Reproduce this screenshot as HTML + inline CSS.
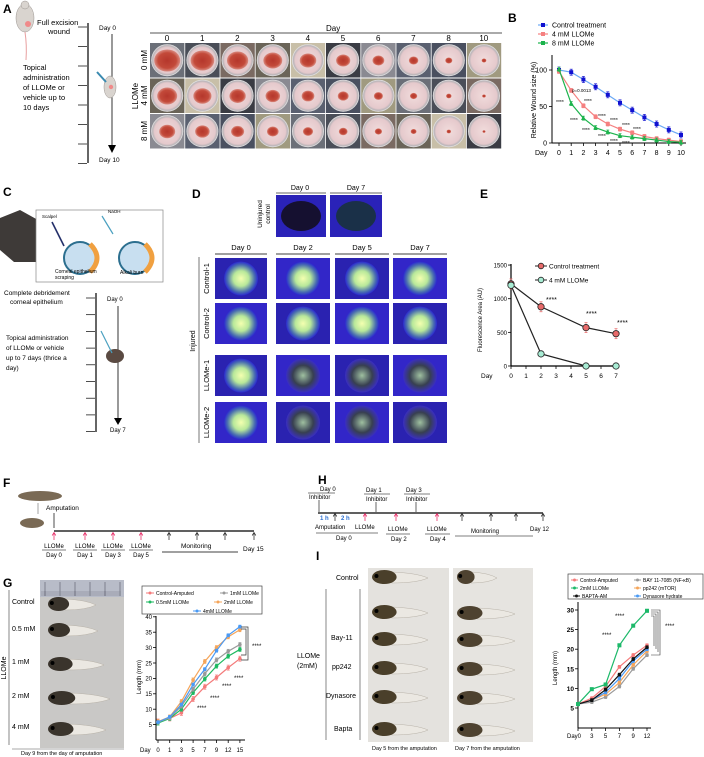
<!DOCTYPE html>
<html><head><meta charset="utf-8"><style>
html,body{margin:0;padding:0;background:#fff;}
svg{display:block;font-family:"Liberation Sans",sans-serif;}
</style></head><body>
<svg id="fig" width="704" height="757" viewBox="0 0 704 757" xmlns="http://www.w3.org/2000/svg">
<defs>
<radialGradient id="dish" cx="50%" cy="50%" r="50%"><stop offset="0" stop-color="#f1dcdc"/><stop offset="0.8" stop-color="#e5c9cc"/><stop offset="0.92" stop-color="#b9b4b8"/><stop offset="1" stop-color="#eeeeee"/></radialGradient>
<radialGradient id="wound" cx="50%" cy="50%" r="50%"><stop offset="0" stop-color="#b5372c"/><stop offset="0.7" stop-color="#c34a3a"/><stop offset="1" stop-color="#d98a80"/></radialGradient>
<radialGradient id="eye" cx="50%" cy="50%" r="50%"><stop offset="0" stop-color="#f4ffb0"/><stop offset="0.45" stop-color="#b8e89a"/><stop offset="0.8" stop-color="#4a6fb0"/><stop offset="1" stop-color="#2b2ad0"/></radialGradient>
<radialGradient id="eyedark" cx="50%" cy="50%" r="50%"><stop offset="0" stop-color="#9fc0a0"/><stop offset="0.6" stop-color="#384050"/><stop offset="1" stop-color="#3a2fc0"/></radialGradient>
</defs>

<!-- Panel A -->
<g font-size="8">
<text x="3" y="13" font-size="12" font-weight="bold">A</text>
<g>
<ellipse cx="25" cy="18" rx="9" ry="14" fill="#d9d4cf" stroke="#9a9490" stroke-width="0.5"/>
<circle cx="25" cy="5" r="4" fill="#d9d4cf" stroke="#9a9490" stroke-width="0.5"/>
<circle cx="28" cy="24" r="3" fill="#f08a8a"/>
<path d="M25 32 Q27 45 26 60" stroke="#e8a0a0" fill="none" stroke-width="1"/>
</g>
<text x="37" y="25" font-size="7.5">Full excision</text>
<text x="48" y="34" font-size="7.5">wound</text>
<text x="23" y="70" font-size="7.5">Topical</text>
<text x="23" y="80" font-size="7.5">administration</text>
<text x="23" y="90" font-size="7.5">of LLOMe or</text>
<text x="23" y="100" font-size="7.5">vehicle up to</text>
<text x="23" y="110" font-size="7.5">10 days</text>
<line x1="88" y1="23" x2="88" y2="163" stroke="#000" stroke-width="1.2"/>
<g id="a-ticks"></g>
<text x="99" y="30" font-size="6.5">Day 0</text>
<line x1="112" y1="34" x2="112" y2="147" stroke="#000" stroke-width="0.8"/>
<path d="M108 145 L116 145 L112 153 Z" fill="#000"/>
<text x="99" y="162" font-size="6.5">Day 10</text>
<g>
<ellipse cx="110" cy="87" rx="6" ry="11" fill="#d9d4cf" stroke="#9a9490" stroke-width="0.5"/>
<circle cx="111" cy="87" r="2.2" fill="#f08a8a"/>
<line x1="97" y1="72" x2="106" y2="82" stroke="#3a8ab0" stroke-width="2"/>
</g>
<text x="326" y="31" font-size="8">Day</text>
<line x1="150" y1="33" x2="502" y2="33" stroke="#555" stroke-width="1"/>
<text transform="translate(138,96) rotate(-90)" text-anchor="middle" font-size="8">LLOMe</text>
<g id="a-grid"></g>
</g>

<!-- Panel B chart -->
<g>
<text x="508" y="22" font-size="12" font-weight="bold">B</text>
<g id="b-chart"></g>
</g>

<!-- Panel C -->
<g font-size="6.5">
<text x="3" y="196" font-size="12" font-weight="bold">C</text>
<path d="M0 218 L20 210 L38 220 L36 262 L14 262 L0 250 Z" fill="#3e3a38"/>
<rect x="36" y="210" width="127" height="72" fill="#fff" stroke="#888" stroke-width="0.7"/>
<text x="42" y="218" font-size="4.5">Scalpel</text>
<text x="108" y="213" font-size="4.5">NaOH</text>
<circle cx="80" cy="258" r="16" fill="#c8dff0" stroke="#2c6f8f" stroke-width="2"/>
<path d="M90 244 Q104 258 90 272" stroke="#f0a040" stroke-width="5" fill="none"/>
<circle cx="135" cy="258" r="16" fill="#c8dff0" stroke="#2c6f8f" stroke-width="2"/>
<path d="M145 244 Q159 258 145 272" stroke="#f0a040" stroke-width="5" fill="none"/>
<line x1="52" y1="222" x2="64" y2="246" stroke="#24306a" stroke-width="1.6"/>
<line x1="102" y1="216" x2="113" y2="234" stroke="#4aa0c0" stroke-width="1.2"/>
<text x="55" y="273" font-size="5">Corneal epithelium</text>
<text x="55" y="279" font-size="5">scraping</text>
<text x="120" y="274" font-size="5">Alkali burn</text>
<text x="4" y="295" font-size="6.5">Complete debridement</text>
<text x="10" y="304" font-size="6.5">corneal epithelium</text>
<text x="6" y="340" font-size="6.5">Topical administration</text>
<text x="6" y="350" font-size="6.5">of LLOMe or vehicle</text>
<text x="6" y="360" font-size="6.5">up to 7 days (thrice a</text>
<text x="6" y="370" font-size="6.5">day)</text>
<line x1="96" y1="293" x2="96" y2="432" stroke="#000" stroke-width="1.2"/>
<g id="c-ticks"></g>
<text x="107" y="301" font-size="6">Day 0</text>
<line x1="118" y1="306" x2="118" y2="420" stroke="#000" stroke-width="0.8"/>
<path d="M114 418 L122 418 L118 425 Z" fill="#000"/>
<text x="110" y="432" font-size="6">Day 7</text>
<ellipse cx="115" cy="356" rx="9" ry="7" fill="#5a4a42"/>
<line x1="101" y1="331" x2="112" y2="353" stroke="#4aa0c0" stroke-width="1.2"/>
</g>

<!-- Panel D -->
<g font-size="7">
<text x="192" y="198" font-size="12" font-weight="bold">D</text>
<text x="300" y="190" text-anchor="middle">Day 0</text>
<text x="356" y="190" text-anchor="middle">Day 7</text>
<line x1="276" y1="193" x2="326" y2="193" stroke="#666" stroke-width="1"/>
<line x1="330" y1="193" x2="382" y2="193" stroke="#666" stroke-width="1"/>
<text transform="translate(262,214) rotate(-90)" text-anchor="middle" font-size="6.5">Uninjured</text>
<text transform="translate(270,214) rotate(-90)" text-anchor="middle" font-size="6.5">control</text>
<g id="d-grid"></g>
<line x1="199" y1="257" x2="199" y2="443" stroke="#555" stroke-width="0.8"/>
<text transform="translate(195,341) rotate(-90)" text-anchor="middle" font-size="7">Injured</text>
</g>

<!-- Panel E -->
<g>
<text x="480" y="198" font-size="12" font-weight="bold">E</text>
<g id="e-chart"></g>
</g>

<!-- Panel F -->
<g font-size="6">
<text x="3" y="487" font-size="12" font-weight="bold">F</text>
<ellipse cx="40" cy="496" rx="22" ry="5" fill="#7a6a55"/>
<ellipse cx="32" cy="523" rx="12" ry="5" fill="#7a6a55"/>
<line x1="38" y1="503" x2="38" y2="514" stroke="#666" stroke-width="0.6"/>
<text x="46" y="510" font-size="6.5">Amputation</text>
<line x1="54" y1="513" x2="54" y2="528" stroke="#000" stroke-width="0.7"/>
<line x1="54" y1="531" x2="254" y2="531" stroke="#000" stroke-width="1.2"/>
<g id="f-marks"></g>
<text x="181" y="548" font-size="6.5">Monitoring</text>
<line x1="162" y1="552" x2="238" y2="552" stroke="#000" stroke-width="0.7"/>
<text x="243" y="551" font-size="6.5">Day 15</text>
</g>

<!-- Panel H -->
<g font-size="6">
<text x="318" y="484" font-size="12" font-weight="bold">H</text>
<line x1="318" y1="513" x2="543" y2="513" stroke="#000" stroke-width="1.2"/>
<text x="320" y="491">Day 0</text><line x1="308" y1="493" x2="335" y2="493" stroke="#000" stroke-width="0.6"/><text x="309" y="499">Inhibitor</text>
<line x1="319" y1="500" x2="319" y2="512" stroke="#000" stroke-width="0.6"/>
<text x="366" y="492">Day 1</text><line x1="364" y1="494" x2="390" y2="494" stroke="#000" stroke-width="0.6"/><text x="366" y="501">Inhibitor</text>
<line x1="376" y1="502" x2="376" y2="512" stroke="#000" stroke-width="0.6"/>
<text x="406" y="492">Day 3</text><line x1="404" y1="494" x2="430" y2="494" stroke="#000" stroke-width="0.6"/><text x="406" y="501">Inhibitor</text>
<line x1="416" y1="502" x2="416" y2="512" stroke="#000" stroke-width="0.6"/>
<text x="320" y="520" fill="#2b6fd0" font-weight="bold">1 h</text>
<text x="341" y="520" fill="#2b6fd0" font-weight="bold">2 h</text>
<g id="h-marks"></g>
<text x="315" y="529">Amputation</text><text x="355" y="529">LLOMe</text>
<line x1="316" y1="533" x2="378" y2="533" stroke="#000" stroke-width="0.6"/>
<text x="336" y="540">Day 0</text>
<text x="388" y="531">LLOMe</text><line x1="386" y1="534" x2="410" y2="534" stroke="#000" stroke-width="0.6"/><text x="391" y="541">Day 2</text>
<text x="427" y="531">LLOMe</text><line x1="425" y1="534" x2="450" y2="534" stroke="#000" stroke-width="0.6"/><text x="430" y="541">Day 4</text>
<text x="471" y="533">Monitoring</text>
<line x1="455" y1="536" x2="533" y2="536" stroke="#000" stroke-width="0.6"/>
<text x="530" y="531">Day 12</text>
</g>

<!-- Panel G photos -->
<g>
<text x="3" y="587" font-size="12" font-weight="bold">G</text>
<rect x="40" y="580" width="84" height="168" fill="#c9c8c6"/>
<rect x="40" y="580" width="84" height="17" fill="#b8bcc8"/>
<g id="g-ruler"></g>
<g id="g-tadpoles"></g>
<line x1="9" y1="590" x2="9" y2="745" stroke="#555" stroke-width="0.7"/>
<text transform="translate(6,668) rotate(-90)" text-anchor="middle" font-size="7">LLOMe</text>
<text x="12" y="604" font-size="7">Control</text>
<text x="12" y="631" font-size="7">0.5 mM</text>
<text x="12" y="664" font-size="7">1 mM</text>
<text x="12" y="698" font-size="7">2 mM</text>
<text x="12" y="729" font-size="7">4 mM</text>
<line x1="12" y1="749" x2="124" y2="749" stroke="#555" stroke-width="0.6"/>
<text x="21" y="755" font-size="5.5">Day 9 from the day of amputation</text>
<g id="g-chart"></g>
</g>

<!-- Panel I -->
<g>
<text x="316" y="560" font-size="12" font-weight="bold">I</text>
<rect x="368" y="568" width="81" height="174" fill="#e4e2de"/>
<rect x="453" y="568" width="80" height="174" fill="#e6e4e0"/>
<g id="i-tadpoles"></g>
<text x="336" y="580" font-size="7">Control</text>
<text x="331" y="640" font-size="7">Bay-11</text>
<text x="332" y="669" font-size="7">pp242</text>
<text x="326" y="698" font-size="7">Dynasore</text>
<text x="334" y="731" font-size="7">Bapta</text>
<text x="297" y="658" font-size="7">LLOMe</text>
<text x="297" y="668" font-size="7">(2mM)</text>
<line x1="326" y1="589" x2="326" y2="740" stroke="#555" stroke-width="0.7"/>
<line x1="360" y1="589" x2="360" y2="740" stroke="#555" stroke-width="0.7"/>
<text x="372" y="750" font-size="5.5">Day 5 from the amputation</text>
<text x="455" y="750" font-size="5.5">Day 7 from the amputation</text>
<g id="i-chart"></g>
</g>
</svg>

<script>
// ---------- Chart data ----------
// Panel B
const bDays = [0,1,2,3,4,5,6,7,8,9,10];
const bControl = [100,97,87,77,66,55,45,35,26,18,11];
const bLLOMe4 = [98,72,51,36,26,19,14,9,6,4,2];
const bLLOMe8 = [101,54,34,21,15,10,8,6,4,2,1];
const bYTicks = [0,50,100];
// Panel E
const eDays = [0,2,5,7];
const eControl = [1220,880,570,480];
const eLLOMe = [1200,180,0,0];
const eYTicks = [0,500,1000,1500];
const eXTicks = [0,1,2,3,4,5,6,7];
// Panel G
const gCats = ["0","1","3","5","7","9","12","15"];
const gControl = [6,7,8.8,13.3,17.3,20.3,23.5,26.4];
const gL05 = [5.5,7,10,15.4,19.8,24,27.2,29.4];
const gL1 = [5.8,7.2,11,16.5,21.5,26,28.8,31];
const gL2 = [6,7.5,12.5,19.5,25.5,30,33.5,35.8];
const gL4 = [5.8,7.5,11.5,18,23,29,34,36.8];
const gYTicks = [5,10,15,20,25,30,35,40];
// Panel I
const iCats = ["Day0","3","5","7","9","12"];
const iControl = [6,7.5,10.5,15.5,18.5,21];
const iLLOMe = [6,9.8,11,21,26,29.8];
const iBapta = [6,7,9.7,13.5,17.5,20.5];
const iBay = [6,6.5,7.8,10.5,15,18.5];
const iPp242 = [6,7,8.5,11.5,16,19.5];
const iDyn = [6,7,9,12.5,17,20];
const iYTicks = [5,10,15,20,25,30];

const NS = "http://www.w3.org/2000/svg";
function mk(parent, tag, attrs, text){
  const el = document.createElementNS(NS, tag);
  for (const k in attrs) el.setAttribute(k, attrs[k]);
  if (text !== undefined) el.textContent = text;
  parent.appendChild(el);
  return el;
}
const $ = id => document.getElementById(id);

// ---------- Panel A ticks & grid ----------
for (let i=0;i<8;i++){
  const y = 27 + i*19.5;
  const t = mk($('a-ticks'),'line',{x1:78,y1:y,x2:87,y2:y,stroke:'#000','stroke-width':0.7});
  
  
}
const aDays = ["0","1","2","3","4","5","6","7","8","10"];
const aRows = ["0 mM","4 mM","8 mM"];
const aBg = ["#6b6f78","#4a4e58","#7a6a62","#6a6458","#c8bfa8","#3a3c44","#8a8a92","#5a6070","#4a5060","#a09a80"];
for (let c=0;c<10;c++){
  const lbl = mk($('a-grid'),'text',{x:150+c*35.2+17,y:41,'text-anchor':'middle','font-size':8},aDays[c]);
  
  
  for (let r=0;r<3;r++){
    const x = 150+c*35.2, y = 43+r*35.5;
    const cell = mk($('a-grid'),'rect',{x:x,y:y,width:34.4,height:34.5,fill:aBg[(c+r*3)%10]});
    
    
    mk($('a-grid'),'circle',{cx:x+17.2,cy:y+17.2,r:16,fill:'url(#dish)'});
    const base = r===0 ? 13 : (r===1 ? 10 : 8);
    const wr = Math.max(1.5, base*(1 - c/11));
    mk($('a-grid'),'ellipse',{cx:x+17.2,cy:y+17.5,rx:wr,ry:wr*0.85,fill:'url(#wound)'});
  }
}
aRows.forEach((t,r)=>{
  const el = mk($('a-grid'),'text',{transform:`translate(147,${60+r*35.5}) rotate(-90)`,'text-anchor':'middle','font-size':8},t);
  
  
});

// ---------- Panel C ticks ----------
for (let i=0;i<9;i++){
  const y = 298 + i*16.7;
  const t = mk($('c-ticks'),'line',{x1:86,y1:y,x2:95,y2:y,stroke:'#000','stroke-width':0.7});
  
  
}

// ---------- Panel D grid ----------
[[276,326],[330,382]].forEach(([x0,x1],i)=>{
  const r = mk($('d-grid'),'rect',{x:x0,y:195,width:x1-x0,height:42,fill:'#2a22b8'});
  
  
  mk($('d-grid'),'ellipse',{cx:(x0+x1)/2,cy:216,rx:20,ry:15,fill:i? '#1a3048':'#151030'});
});
const dCols = [[215,267],[276,330],[335,389],[393,447]];
const dHead = ["Day 0","Day 2","Day 5","Day 7"];
const dRows = [[258,299,"Control-1"],[303,344,"Control-2"],[355,396,"LLOMe-1"],[402,443,"LLOMe-2"]];
dCols.forEach(([x0,x1],c)=>{
  const h = mk($('d-grid'),'text',{x:(x0+x1)/2,y:250,'text-anchor':'middle','font-size':7.5},dHead[c]);
  
  
  mk($('d-grid'),'line',{x1:x0,y1:254,x2:x1,y2:254,stroke:'#666','stroke-width':1.2});
  dRows.forEach(([y0,y1],r)=>{
    const rc = mk($('d-grid'),'rect',{x:x0,y:y0,width:x1-x0,height:y1-y0,fill:(c+r)%2?'#3226c8':'#2a22b0'});
    
    
    const healed = r>=2 && c>=1;
    mk($('d-grid'),'circle',{cx:(x0+x1)/2,cy:(y0+y1)/2,r:17,fill:healed?'url(#eyedark)':'url(#eye)'});
  });
});
dRows.forEach(([y0,y1,t])=>{
  const el = mk($('d-grid'),'text',{transform:`translate(209,${(y0+y1)/2}) rotate(-90)`,'text-anchor':'middle','font-size':7.5},t);
  
  
});

// ---------- Generic helpers ----------
function errbar(g,x,y,h,color){
  mk(g,'line',{x1:x,y1:y-h,x2:x,y2:y+h,stroke:color,'stroke-width':0.7});
  mk(g,'line',{x1:x-1.5,y1:y-h,x2:x+1.5,y2:y-h,stroke:color,'stroke-width':0.7});
  mk(g,'line',{x1:x-1.5,y1:y+h,x2:x+1.5,y2:y+h,stroke:color,'stroke-width':0.7});
}
function series(g, xs, ys, xf, yf, color, marker, name, mcolor, eh, lineColor){
  const pts = xs.map((x,i)=>xf(x,i)+','+yf(ys[i])).join(' ');
  const pl = mk(g,'polyline',{points:pts,fill:'none',stroke:lineColor||color,'stroke-width':1.2});
  
  
  xs.forEach((x,i)=>{
    const px = xf(x,i), py = yf(ys[i]);
    errbar(g,px,py,eh,mcolor||color);
    let m;
    if (marker==='sq') m = mk(g,'rect',{x:px-2,y:py-2,width:4,height:4,fill:mcolor||color});
    else if (marker==='tri') m = mk(g,'path',{d:`M${px} ${py-2.6} L${px+2.4} ${py+1.8} L${px-2.4} ${py+1.8} Z`,fill:mcolor||color});
    else m = mk(g,'circle',{cx:px,cy:py,r:marker==='bigc'?3.2:1.8,fill:mcolor||color,stroke:marker==='bigc'?'#222':'none','stroke-width':0.8});
    
    
  });
}

// ---------- Panel B chart ----------
(function(){
  const g = $('b-chart');
  const xB = d => 559 + d*12.2;
  const yB = v => 143 - v*0.73;
  mk(g,'line',{x1:552,y1:55,x2:552,y2:143,stroke:'#000','stroke-width':1});
  mk(g,'line',{x1:552,y1:143,x2:686,y2:143,stroke:'#000','stroke-width':1});
  bYTicks.forEach(v=>{
    mk(g,'line',{x1:549,y1:yB(v),x2:552,y2:yB(v),stroke:'#000','stroke-width':0.8});
    const t = mk(g,'text',{x:547,y:yB(v)+2.5,'text-anchor':'end','font-size':7},String(v));
    
    
  });
  bDays.forEach(d=>{
    mk(g,'line',{x1:xB(d),y1:143,x2:xB(d),y2:146,stroke:'#000','stroke-width':0.8});
    const t = mk(g,'text',{x:xB(d),y:155,'text-anchor':'middle','font-size':7},String(d));
    
    
  });
  const dl = mk(g,'text',{x:535,y:155,'font-size':7},'Day');
  
  
  const yl = mk(g,'text',{transform:'translate(536,100) rotate(-90)','text-anchor':'middle','font-size':7},'Relative Wound size (%)');
  
  
  series(g,bDays,bControl,xB,yB,'#6aa8f5','sq','control-treatment','#1010d0',3);
  series(g,bDays,bLLOMe4,xB,yB,'#f58080','sq','llome-4mm','#f58080',2);
  series(g,bDays,bLLOMe8,xB,yB,'#1cb34c','tri','llome-8mm','#1cb34c',2);
  const leg = [['Control treatment','#6aa8f5','#1010d0',25],['4 mM LLOMe','#f58080','#f58080',34],['8 mM LLOMe','#1cb34c','#1cb34c',43]];
  leg.forEach(([t,c,mc,y])=>{
    mk(g,'line',{x1:538,y1:y,x2:548,y2:y,stroke:c,'stroke-width':1.2});
    mk(g,'rect',{x:541,y:y-2,width:4,height:4,fill:mc});
    const tx = mk(g,'text',{x:552,y:y+2.5,'font-size':7},t);
    
    
  });
  mk(g,'text',{x:572,y:92,'font-size':4.5},'p=0.0013');
  [[556,104],[584,103],[570,122],[598,118],[582,132],[610,122],[598,138],[622,127],[610,143],[633,131],[622,145]].forEach(([x,y])=>mk(g,'text',{x:x,y:y,'font-size':5},'****'));
})();

// ---------- Panel E chart ----------
(function(){
  const g = $('e-chart');
  const xE = d => 511 + d*15;
  const yE = v => 366 - v*0.0673;
  mk(g,'line',{x1:511,y1:264,x2:511,y2:366,stroke:'#000','stroke-width':1.2});
  mk(g,'line',{x1:511,y1:366,x2:619,y2:366,stroke:'#000','stroke-width':1.2});
  eYTicks.forEach(v=>{
    mk(g,'line',{x1:508,y1:yE(v),x2:511,y2:yE(v),stroke:'#000','stroke-width':0.8});
    const t = mk(g,'text',{x:507,y:yE(v)+2.5,'text-anchor':'end','font-size':6},String(v));
    
    
  });
  eXTicks.forEach(d=>{
    mk(g,'line',{x1:xE(d),y1:366,x2:xE(d),y2:369,stroke:'#000','stroke-width':0.8});
    const t = mk(g,'text',{x:xE(d),y:378,'text-anchor':'middle','font-size':6.5},String(d));
    
    
  });
  const dl = mk(g,'text',{x:481,y:378,'font-size':6.5},'Day');
  
  
  const yl = mk(g,'text',{transform:'translate(482,320) rotate(-90)','text-anchor':'middle','font-size':6},'Fluorescence Area (AU)');
  
  
  series(g,eDays,eControl,xE,yE,'#222','bigc','control-treatment','#e86a6a',5,'#222');
  series(g,eDays,eLLOMe,xE,yE,'#222','bigc','llome-4mm','#a8ecd4',1,'#222');
  [['Control treatment','#e86a6a',266],['4 mM LLOMe','#a8ecd4',280]].forEach(([t,c,y])=>{
    mk(g,'line',{x1:535,y1:y,x2:547,y2:y,stroke:'#222','stroke-width':1});
    mk(g,'circle',{cx:541,cy:y,r:2.8,fill:c,stroke:'#222','stroke-width':0.8});
    const tx = mk(g,'text',{x:549,y:y+2.5,'font-size':6.5},t);
    
    
  });
  [[546,302],[586,316],[617,325]].forEach(([x,y])=>mk(g,'text',{x:x,y:y,'font-size':7},'****'));
})();

// ---------- Panel F marks ----------
(function(){
  const xs=[54,85,113,141,169,197,225,254];
  const lab=["Day 0","Day 1","Day 3","Day 5"];
  xs.forEach((x,i)=>{
    const c = i<4?'#e8306a':'#333';
    const a = mk($('f-marks'),'path',{d:`M${x} 533 L${x} 540 M${x-1.8} 535.5 L${x} 532.5 L${x+1.8} 535.5`,stroke:c,fill:'none','stroke-width':0.8});
    
    
    if(i<4){
      mk($('f-marks'),'text',{x:x,y:548,'text-anchor':'middle','font-size':6},'LLOMe');
      mk($('f-marks'),'line',{x1:x-12,y1:550,x2:x+12,y2:550,stroke:'#000','stroke-width':0.6});
      mk($('f-marks'),'text',{x:x,y:557,'text-anchor':'middle','font-size':6},lab[i]);
    }
  });
})();
// ---------- Panel H marks ----------
(function(){
  [[335,'#333'],[365,'#e8306a'],[396,'#e8306a'],[437,'#e8306a'],[462,'#333'],[491,'#333'],[516,'#333'],[543,'#333']].forEach(([x,c])=>{
    const a = mk($('h-marks'),'path',{d:`M${x} 514 L${x} 521 M${x-1.8} 516.5 L${x} 513.5 L${x+1.8} 516.5`,stroke:c,fill:'none','stroke-width':0.8});
    
    
  });
})();

// ---------- Tadpoles ----------
function tadpole(g,x,y,len,dark){
  const t = mk(g,'path',{d:`M${x+len*0.35} ${y-5} Q${x+len*0.8} ${y-4} ${x+len} ${y+1} Q${x+len*0.8} ${y+6} ${x+len*0.35} ${y+6} Z`,fill:'#ebe8e2',stroke:'#b8b2a8','stroke-width':0.5});
  
  
  const b = mk(g,'ellipse',{cx:x+len*0.22,cy:y,rx:len*0.22,ry:7,fill:dark});
  
  
  mk(g,'circle',{cx:x+len*0.08,cy:y-1,r:2,fill:'#000'});
}
for(let i=0;i<6;i++){ mk($('g-ruler'),'line',{x1:45+i*15,y1:582,x2:45+i*15,y2:596,stroke:'#445','stroke-width':0.5}); }
for(let i=0;i<40;i++){ mk($('g-ruler'),'line',{x1:42+i*2,y1:591,x2:42+i*2,y2:596,stroke:'#556','stroke-width':0.3}); }
[[604,48],[630,50],[664,56],[698,62],[729,58]].forEach(([y,l])=>tadpole($('g-tadpoles'),48,y,l,'#3a342c'));
[577,612,639,668,697,729].forEach((y,i)=>{
  tadpole($('i-tadpoles'),372,y,56,'#4a3f2a');
  tadpole($('i-tadpoles'),457,y+(i==0?0:1),i==0?40:58,'#4e4230');
});

// ---------- Panel G chart ----------
(function(){
  const g = $('g-chart');
  const xG = (c,i) => 158 + i*11.7;
  const yG = v => 740 - v*3.08;
  mk(g,'line',{x1:156,y1:616,x2:156,y2:740,stroke:'#000','stroke-width':1});
  mk(g,'line',{x1:156,y1:740,x2:245,y2:740,stroke:'#000','stroke-width':1});
  gYTicks.forEach(v=>{
    mk(g,'line',{x1:153,y1:yG(v),x2:156,y2:yG(v),stroke:'#000','stroke-width':0.8});
    const t = mk(g,'text',{x:152,y:yG(v)+2.3,'text-anchor':'end','font-size':6},String(v));
    
    
  });
  gCats.forEach((c,i)=>{
    mk(g,'line',{x1:xG(c,i),y1:740,x2:xG(c,i),y2:743,stroke:'#000','stroke-width':0.8});
    const t = mk(g,'text',{x:xG(c,i),y:752,'text-anchor':'middle','font-size':6},c);
    
    
  });
  const dl = mk(g,'text',{x:140,y:752,'font-size':6},'Day');
  
  
  const yl = mk(g,'text',{transform:'translate(141,677) rotate(-90)','text-anchor':'middle','font-size':6},'Length  (mm)');
  
  
  series(g,gCats,gControl,xG,yG,'#f47a7a','c','control-amputated',null,2.5);
  series(g,gCats,gL05,xG,yG,'#1db960','c','llome-0-5mm',null,2);
  series(g,gCats,gL1,xG,yG,'#9a9a9a','c','llome-1mm',null,2);
  series(g,gCats,gL2,xG,yG,'#f5a55a','c','llome-2mm',null,2);
  series(g,gCats,gL4,xG,yG,'#4a9af5','c','llome-4mm',null,1.5);
  const lb = mk(g,'rect',{x:142,y:586,width:120,height:28,fill:'#fff',stroke:'#444','stroke-width':0.7});
  
  
  [['Control-Amputed','#f47a7a',146,593],['1mM LLOMe','#9a9a9a',220,593],['0.5mM LLOMe','#1db960',146,602],['2mM LLOMe','#f5a55a',214,602],['4mM LLOMe','#4a9af5',193,611]].forEach(([t,c,x,y])=>{
    mk(g,'line',{x1:x,y1:y,x2:x+8,y2:y,stroke:c,'stroke-width':1});
    mk(g,'circle',{cx:x+4,cy:y,r:1.5,fill:c});
    const tx = mk(g,'text',{x:x+10,y:y+2,'font-size':5},t);
    
    
  });
  mk(g,'path',{d:'M241 627 L248 627 L248 660 L241 660 M241 629 L246 629 L246 655 L241 655',stroke:'#333',fill:'none','stroke-width':0.7});
  mk(g,'text',{x:252,y:648,'font-size':6},'****');
  [[197,710],[210,700],[222,688],[234,680]].forEach(([x,y])=>mk(g,'text',{x:x,y:y,'font-size':6},'****'));
})();

// ---------- Panel I chart ----------
(function(){
  const g = $('i-chart');
  const xI = (c,i) => 578 + i*13.8;
  const yI = v => 727.6 - v*3.92;
  mk(g,'line',{x1:578,y1:602,x2:578,y2:728,stroke:'#000','stroke-width':1});
  mk(g,'line',{x1:578,y1:728,x2:651,y2:728,stroke:'#000','stroke-width':1});
  iYTicks.forEach(v=>{
    mk(g,'line',{x1:575,y1:yI(v),x2:578,y2:yI(v),stroke:'#000','stroke-width':0.8});
    const t = mk(g,'text',{x:574,y:yI(v)+2.5,'text-anchor':'end','font-size':6.5,'font-weight':'bold'},String(v));
    
    
  });
  iCats.forEach((c,i)=>{
    mk(g,'line',{x1:xI(c,i),y1:728,x2:xI(c,i),y2:731,stroke:'#000','stroke-width':0.8});
    const t = mk(g,'text',{x:i===0?xI(c,i)-4:xI(c,i),y:738,'text-anchor':'middle','font-size':6},c);
    
    
  });
  const yl = mk(g,'text',{transform:'translate(557,668) rotate(-90)','text-anchor':'middle','font-size':6},'Length  (mm)');
  
  
  series(g,iCats,iBay,xI,yI,'#9a9a9a','c','bay-11-7085',null,1.5);
  series(g,iCats,iPp242,xI,yI,'#f5a55a','c','pp242',null,1.5);
  series(g,iCats,iDyn,xI,yI,'#4a9af5','c','dynasore',null,1.5);
  series(g,iCats,iControl,xI,yI,'#f47a7a','c','control-amputated',null,1.5);
  series(g,iCats,iBapta,xI,yI,'#111','c','bapta-am',null,1.5);
  series(g,iCats,iLLOMe,xI,yI,'#1db96a','sq','llome-2mm',null,1.5);
  const lb = mk(g,'rect',{x:568,y:574,width:135,height:25,fill:'#fff',stroke:'#444','stroke-width':0.7});
  
  
  [['Control-Amputed','#f47a7a',571,580],['BAY 11-7085 (NF-κB)','#9a9a9a',634,580],['2mM LLOMe','#1db96a',571,588],['pp242 (mTOR)','#f5a55a',634,588],['BAPTA-AM','#111',573,596],['Dynasore hydrate','#4a9af5',634,596]].forEach(([t,c,x,y])=>{
    mk(g,'line',{x1:x,y1:y,x2:x+7,y2:y,stroke:c,'stroke-width':1});
    mk(g,'circle',{cx:x+3.5,cy:y,r:1.5,fill:c});
    const tx = mk(g,'text',{x:x+9,y:y+2,'font-size':5},t);
    
    
  });
  mk(g,'path',{d:'M651 610 L660 610 L660 655 L651 655 M651 612 L658 612 L658 652 M651 614 L656 614 L656 649 M651 616 L654 616 L654 646',stroke:'#333',fill:'none','stroke-width':0.6});
  mk(g,'text',{x:665,y:628,'font-size':6},'****');
  [[602,637],[615,618]].forEach(([x,y])=>mk(g,'text',{x:x,y:y,'font-size':6},'****'));
})();
</script>
</body></html>
